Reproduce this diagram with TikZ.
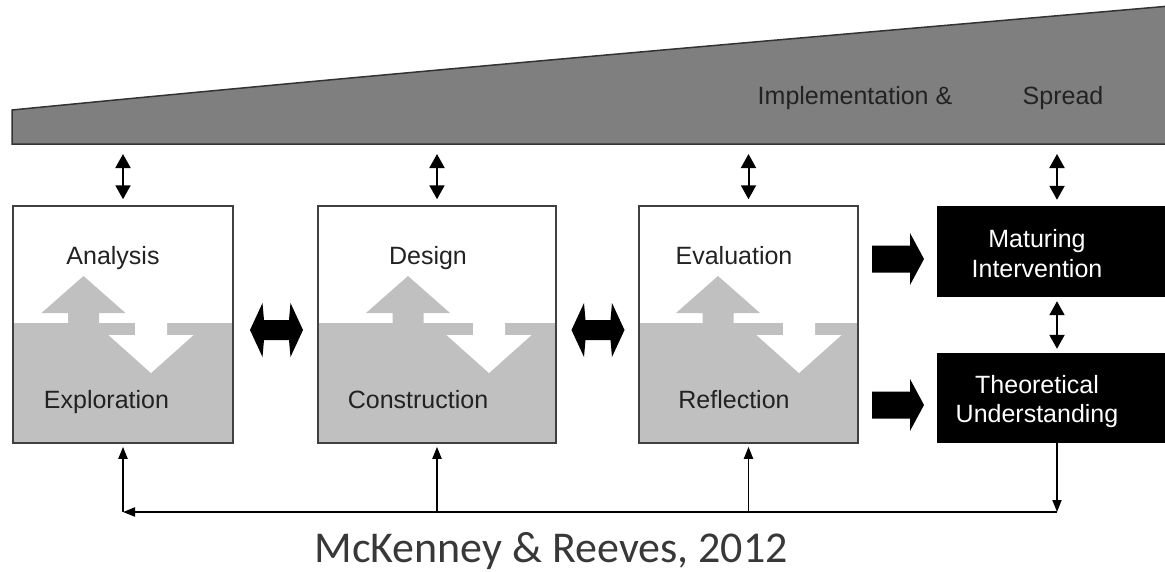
\documentclass[tikz,border=0pt]{standalone}
\usepackage{fontspec}
\setmainfont{Liberation Sans}
\newfontfamily\capfont{Carlito}
\usetikzlibrary{arrows.meta}

\definecolor{wedgegray}{HTML}{7F7F7F}
\definecolor{lowgray}{HTML}{C0C0C0}
\definecolor{ink}{HTML}{222222}

% gray arrow up, white arrow down, in one phase box
\newcommand\phasearrows[2]{%
	\fill [lowgray] (#1,276) -- (#1+42,313) -- (#1+15.5,313) -- (#1+15.5,324) -- (#1-15.5,324) -- (#1-15.5,313) -- (#1-42,313) -- cycle;
	\fill [white] (#2-16,322) -- (#2+16,322) -- (#2+16,335) -- (#2+42.5,335) -- (#2,373) -- (#2-42.5,335) -- (#2-16,335) -- cycle;}

\begin{document}
\begin{tikzpicture}[x=1pt,y=-1pt]
		\tikzstyle{phase-box}=[draw=black!75,line width=1.5pt,minimum height=237pt,inner sep=0pt,path picture={\fill [lowgray] ([yshift=1.5pt]path picture bounding box.west) rectangle (path picture bounding box.south east);}]
		\tikzstyle{out-box}=[fill=black,minimum width=240pt,minimum height=91pt,inner sep=0pt]
		\tikzstyle{phase-text}=[anchor=base,text=ink,inner sep=0pt,font=\fontsize{25}{30}\selectfont]
		\tikzstyle{out-text}=[align=center,text=white,inner sep=0pt,font=\fontsize{25}{29.5}\selectfont]
		\tikzstyle{link}=[{Triangle[length=14pt,width=15pt]}-{Triangle[length=14pt,width=15pt]},line width=2pt]
		\tikzstyle{feedback}=[-{Triangle[length=12pt,width=9pt]},line width=1.8pt]
		\tikzset{fat-dbl/.pic={\fill (-26.5,0) -- (-14,-27) -- (-12.5,-10) -- (12.5,-10) -- (14,-27) -- (26.5,0) -- (14,27) -- (12.5,10) -- (-12.5,10) -- (-14,27) -- cycle;},
			fat-right/.pic={\fill (-26,-13.5) -- (12,-13.5) -- (12,-26) -- (26,0) -- (12,26) -- (12,13.5) -- (-26,13.5) -- cycle;}}
		\useasboundingbox (0,0) rectangle (1165,571);
		\clip (0,0) rectangle (1165,571);
		% wedge
		\draw [line width=1.5pt,draw=black!80,fill=wedgegray] (12,144) -- (12,110) .. controls (400,72) and (800,38) .. (1170,6) -- (1170,144) -- cycle;
		\coordinate (base) at (0,144);
		\node [phase-text] at (855,104) (impl) {Implementation \&};
		\node [phase-text] at (1063,104) (spread) {Spread};
		% phases
		\node [phase-box,minimum width=220pt] at (123,324.5) (box1) {};
		\node [phase-box,minimum width=238pt] at (437,324.5) (box2) {};
		\node [phase-box,minimum width=219pt] at (748.5,324.5) (box3) {};
		\phasearrows{83.5}{151}
		\phasearrows{408}{489}
		\phasearrows{718}{799}
		\node [phase-text] at (113,264) (ana) {Analysis};
		\node [phase-text] at (106.5,408) (expl) {Exploration};
		\node [phase-text] at (428,264) (des) {Design};
		\node [phase-text] at (418,408) (con) {Construction};
		\node [phase-text] at (734,264) (eva) {Evaluation};
		\node [phase-text] at (734,408) (refl) {Reflection};
		\pic at (276.5,330) {fat-dbl};
		\pic at (598,330) {fat-dbl};
		% outputs
		\node [out-box] at (1057,251.5) (mat) {};
		\node [out-box,minimum height=90pt] at (1057,398) (theo) {};
		\node [out-text] at (1037,253.5) (matlbl) {Maturing\\Intervention};
		\node [out-text] at (1037,401.5) (theolbl) {Theoretical\\Understanding};
		\pic at (898,259) {fat-right};
		\pic at (898,405) {fat-right};
		% links to the wedge
		\draw [link,shorten <=10pt,shorten >=6pt] (box1.north |- base) -- (box1.north);
		\draw [link,shorten <=10pt,shorten >=6pt] (box2.north |- base) -- (box2.north);
		\draw [link,shorten <=10pt,shorten >=6pt] (box3.north |- base) -- (box3.north);
		\draw [link,shorten <=10pt,shorten >=6pt] (mat.north |- base) -- (mat.north);
		\draw [link,shorten <=4pt,shorten >=4pt] (mat) -- (theo);
		% feedback
		\coordinate (fbrow) at (0,512);
		\draw [feedback] (theo) -- (theo.south |- fbrow);
		\draw [feedback] (theo.south |- fbrow) -- (box1.south |- fbrow);
		\draw [feedback,shorten >=3pt] (box1.south |- fbrow) -- (box1);
		\draw [feedback,shorten >=3pt] (box2.south |- fbrow) -- (box2);
		\draw [feedback,shorten >=3pt] (box3.south |- fbrow) -- (box3);
		\node [anchor=base,text=ink!90,font=\capfont\fontsize{44}{50}\selectfont] at (551,562) (cite) {McKenney \& Reeves, 2012};
	\end{tikzpicture}
\end{document}
